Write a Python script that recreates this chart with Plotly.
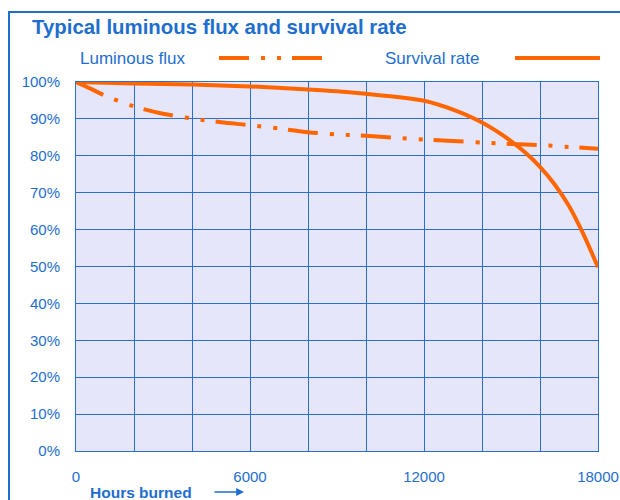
import plotly.graph_objects as go

# ---- data ----
flux_hours = [0, 500, 1000, 2000, 3000, 4000, 5000, 6000, 7000, 8000, 9000,
              10000, 11000, 12000, 13000, 14000, 15000, 16000, 17000, 18000]
flux_pct = [100, 98.2, 96.3, 93.4, 91.4, 90.1, 89.1, 88.3, 87.4, 86.4, 85.8,
            85.4, 84.9, 84.4, 84.0, 83.6, 83.2, 82.9, 82.4, 81.9]

surv_hours = [0, 2000, 4000, 6000, 8000, 9000, 10000, 11000, 12000, 13000,
              14000, 15000, 15500, 16000, 16500, 17000, 17500, 18000]
surv_pct = [100, 99.6, 99.3, 98.8, 98.0, 97.5, 96.8, 96.0, 94.9, 92.5,
            89.0, 84.0, 80.8, 77.0, 72.3, 66.4, 58.7, 49.8]

series_names = ["Luminous flux", "Survival rate"]
title_text = "Typical luminous flux and survival rate"
x_title = "Hours burned"
x_tickvals = [0, 2000, 4000, 6000, 8000, 10000, 12000, 14000, 16000, 18000]
x_ticktext = ["0", "", "", "6000", "", "", "12000", "", "", "18000"]
y_tickvals = [0, 10, 20, 30, 40, 50, 60, 70, 80, 90, 100]
y_ticktext = ["0%", "10%", "20%", "30%", "40%", "50%", "60%", "70%", "80%", "90%", "100%"]

# ---- style ----
ORANGE = "#FF6600"
BLUE = "#1E6ECF"
GRID = "#2A6ED0"
BG = "#E6E6FB"
FONT = "Liberation Sans, Arial, sans-serif"
FLUX_DASH = "30px,12px,4px,12px,4px,11px"

W, H = 620, 500
# plot area in screen pixels: x 76..598, y 82..451
SX0, SX1, SY0, SY1 = 76, 598, 82, 451
L, R, T, B = SX0, W - SX1, SY0, H - SY1
pw, ph = W - L - R, H - T - B


def px(xs):
    return (xs - SX0) / pw


def py(ys):
    return (SY1 - ys) / ph


fig = go.Figure()
fig.add_trace(go.Scatter(x=flux_hours, y=flux_pct, mode="lines", name=series_names[0],
                         line=dict(color=ORANGE, width=4, dash=FLUX_DASH, shape="spline",
                                   smoothing=0.8)))
fig.add_trace(go.Scatter(x=surv_hours, y=surv_pct, mode="lines", name=series_names[1],
                         line=dict(color=ORANGE, width=4, shape="spline", smoothing=0.8)))

fig.update_layout(
    width=W, height=H,
    margin=dict(l=L, r=R, t=T, b=B, pad=0, autoexpand=False),
    paper_bgcolor="white", plot_bgcolor=BG,
    showlegend=False,
    font=dict(family=FONT, color=BLUE, size=15),
    xaxis=dict(range=[0, 18000], tickvals=x_tickvals, ticktext=x_ticktext,
               showgrid=True, gridcolor=GRID, gridwidth=1,
               showline=True, linecolor=GRID, linewidth=1, mirror=True,
               ticks="", zeroline=False, ticklabelstandoff=12, automargin=False,
               tickfont=dict(size=15, color=BLUE)),
    yaxis=dict(range=[0, 100], tickvals=y_tickvals, ticktext=y_ticktext,
               showgrid=True, gridcolor=GRID, gridwidth=1,
               showline=True, linecolor=GRID, linewidth=1, mirror=True,
               ticks="", zeroline=False, ticklabelstandoff=12, automargin=False,
               tickfont=dict(size=15, color=BLUE)),
)

annotations = [
    dict(text="<b>" + title_text + "</b>", xref="paper", yref="paper",
         x=px(30), y=py(27), xanchor="left", yanchor="middle", showarrow=False,
         font=dict(size=20.4, color=BLUE, family=FONT)),
    dict(text=series_names[0], xref="paper", yref="paper",
         x=px(78), y=py(58), xanchor="left", yanchor="middle", showarrow=False,
         font=dict(size=17, color=BLUE, family=FONT)),
    dict(text=series_names[1], xref="paper", yref="paper",
         x=px(383), y=py(58), xanchor="left", yanchor="middle", showarrow=False,
         font=dict(size=17, color=BLUE, family=FONT)),
    dict(text="<b>" + x_title + "</b>", xref="paper", yref="paper",
         x=px(88), y=py(492), xanchor="left", yanchor="middle", showarrow=False,
         font=dict(size=15.5, color=BLUE, family=FONT)),
    dict(text="", xref="paper", yref="paper", x=px(244), y=py(492),
         ax=-31, ay=0, showarrow=True, arrowhead=2, arrowsize=1.2,
         arrowwidth=1.3, arrowcolor=BLUE),
]
fig.update_layout(annotations=annotations)

shapes = [
    # outer frame
    dict(type="rect", xref="paper", yref="paper", x0=px(9), y0=py(520),
         x1=px(660), y1=py(12), line=dict(color=BLUE, width=2), fillcolor="rgba(0,0,0,0)",
         layer="below"),
    # legend lines
    dict(type="line", xref="paper", yref="paper", x0=px(219), x1=px(323),
         y0=py(58), y1=py(58), line=dict(color=ORANGE, width=4, dash=FLUX_DASH)),
    dict(type="line", xref="paper", yref="paper", x0=px(515), x1=px(600),
         y0=py(58), y1=py(58), line=dict(color=ORANGE, width=4)),
]
fig.update_layout(shapes=shapes)

fig.write_html(
    "out.html",
    config={"displayModeBar": False},
    post_script="document.body.style.margin='0px';document.body.style.overflow='hidden';",
)
